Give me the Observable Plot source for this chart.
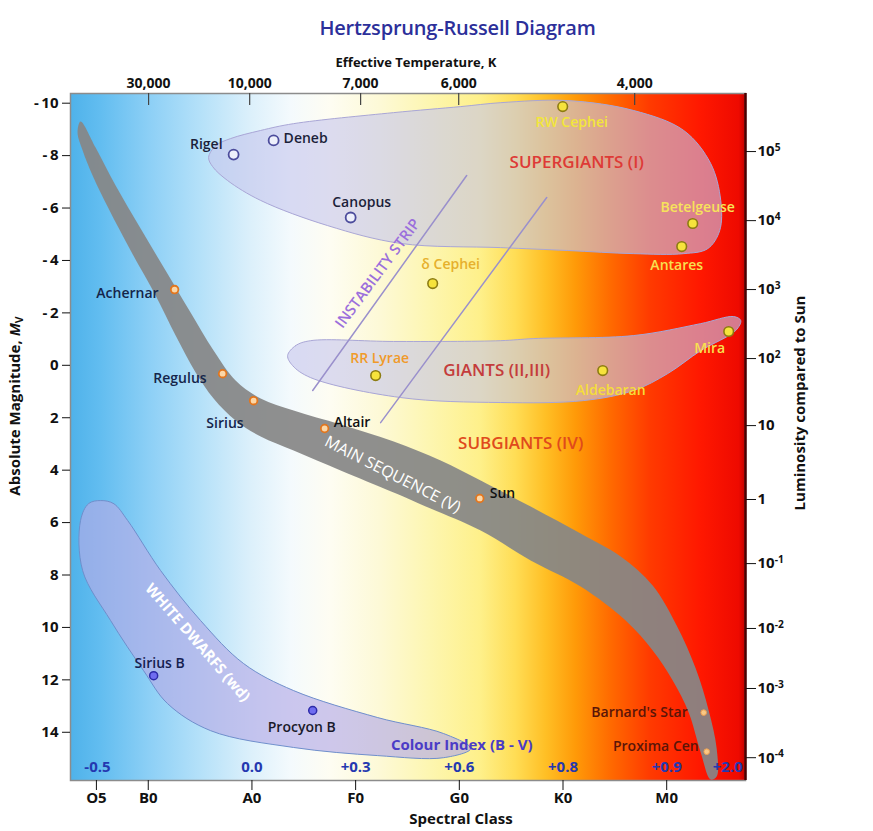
<!DOCTYPE html>
<html>
<head>
<meta charset="utf-8">
<script src="https://cdn.jsdelivr.net/npm/d3@7"></script>
<script src="https://cdn.jsdelivr.net/npm/@observablehq/plot@0.6"></script>
<style>
  body { margin: 0; background: #ffffff; font-family: "Open Sans", sans-serif; }
  #title { height: 44px; line-height: 56px; text-align: center; font-size: 20px; font-weight: 600;
           color: #2c2f9a; letter-spacing: -0.2px; white-space: nowrap; padding-left: 42px; box-sizing: border-box; width: 873px; }
  #chart { width: 873px; }
</style>
</head>
<body>
<div id="title">Hertzsprung-Russell Diagram</div>
<div id="chart"></div>
<script>
// ---------------- DATA ----------------
// x = spectral class index (O=0, B=1, A=2, F=3, G=4, K=5, M=6), y = absolute magnitude M_V
const spectralTicks  = [0.5, 1, 2, 3, 4, 5, 6];
const spectralLabels = ["O5", "B0", "A0", "F0", "G0", "K0", "M0"];

const tempTicks  = [1.003, 1.978, 3.048, 3.994, 5.691];
const tempLabels = ["30,000", "10,000", "7,000", "6,000", "4,000"];

const magTicks = [-10, -8, -6, -4, -2, 0, 2, 4, 6, 8, 10, 12, 14];

const lumTicks  = [-8.155, -5.52, -2.89, -0.257, 2.30, 5.12, 7.565, 10.04, 12.33, 14.97];
const lumLabels = ["10^5", "10^4", "10^3", "10^2", "10", "1", "10^-1", "10^-2", "10^-3", "10^-4"];

const colourIndexX      = [0.51, 2, 3, 4, 5, 6, 6.589];
const colourIndexLabels = ["-0.5", "0.0", "+0.3", "+0.6", "+0.8", "+0.9", "+2.0"];

const starNames = ["Rigel", "Deneb", "Canopus", "RW Cephei", "Betelgeuse", "Antares", "δ Cephei",
  "RR Lyrae", "Aldebaran", "Mira", "Achernar", "Regulus", "Sirius", "Altair", "Sun",
  "Barnard's Star", "Proxima Cen", "Sirius B", "Procyon B"];
const starClass = [1.823, 2.209, 2.952, 4.997, 6.251, 6.145, 3.743,
  3.193, 5.383, 6.598, 1.254, 1.717, 2.016, 2.701, 4.197,
  6.357, 6.386, 1.052, 2.586];
const starMag = [-8.04, -8.58, -5.64, -9.87, -5.41, -4.53, -3.12,
  0.39, 0.20, -1.29, -2.89, 0.32, 1.35, 2.41, 5.08,
  13.25, 14.74, 11.84, 13.17];

const supergiantStars = ["Rigel", "Deneb", "Canopus"];
const giantStars      = ["RW Cephei", "Betelgeuse", "Antares", "δ Cephei", "RR Lyrae", "Aldebaran", "Mira"];
const mainSeqStars    = ["Achernar", "Regulus", "Sirius", "Altair", "Sun"];
const redDwarfStars   = ["Barnard's Star", "Proxima Cen"];
const whiteDwarfStars = ["Sirius B", "Procyon B"];

// region outlines
const mainSeqX = [0.347, 0.492, 0.685, 0.926, 1.167, 1.408, 1.630, 1.842, 2.084, 2.402, 2.855, 3.367, 3.820, 4.206, 4.688, 5.170,
  5.556, 5.865, 6.096, 6.280, 6.405, 6.482, 6.482,
  6.424, 6.328, 6.212, 6.058, 5.865, 5.604, 5.170, 4.688, 4.206, 3.723, 3.367, 2.855, 2.402, 2.084, 1.842, 1.630,
  1.457, 1.264, 1.071, 0.830, 0.617, 0.463, 0.367, 0.318];
const mainSeqMag = [-9.300, -8.308, -6.858, -5.217, -3.615, -2.012, -0.562, 0.582, 1.269, 1.727, 2.261, 2.909, 3.634, 4.397, 5.389, 6.420,
  7.297, 8.404, 9.930, 11.570, 13.173, 14.622, 15.691,
  15.805, 14.775, 13.249, 12.028, 10.883, 9.739, 8.442, 7.450, 6.305, 5.466, 4.855, 4.016, 3.253, 2.719, 2.108, 1.269,
  0.277, -1.135, -2.661, -4.378, -5.980, -7.239, -8.193, -8.880];

const supergiantX = [1.582, 1.650, 1.794, 2.084, 2.402, 3.366, 4.013, 4.399, 5.045, 5.682, 6.164, 6.424, 6.521, 6.511, 6.395,
  6.164, 5.682, 5.045, 4.399, 3.434, 2.730, 2.084, 1.765, 1.621];
const supergiantMag = [-7.93, -8.38, -8.65, -8.96, -9.22, -9.64, -9.87, -10.02, -10.10, -9.72, -8.96, -7.70, -6.29, -5.14, -4.45,
  -4.26, -4.26, -4.38, -4.49, -4.65, -5.33, -6.29, -7.05, -7.58];

const giantX = [2.344, 2.421, 2.566, 3.366, 4.399, 4.717, 5.682, 6.328, 6.646, 6.714, 6.666, 6.328, 6.010, 5.682, 5.199, 4.399, 3.434, 2.566, 2.392];
const giantMag = [-0.37, -0.75, -0.94, -0.91, -0.94, -1.02, -1.135, -1.59, -1.86, -1.71, -1.33, -0.56, 0.315, 0.96, 1.345, 1.42, 1.23, 0.47, 0.01];

const whiteDwarfX = [0.540, 0.666, 0.801, 1.119, 1.505, 1.920, 2.402, 3.213, 3.849, 4.110, 3.849, 3.213, 2.402, 1.602, 1.187, 0.955, 0.637, 0.367, 0.347, 0.425];
const whiteDwarfMag = [5.16, 5.275, 5.92, 7.83, 9.74, 11.38, 12.41, 13.44, 14.05, 14.62, 14.97, 14.89, 14.58, 13.94, 12.91, 11.65, 9.74, 7.83, 5.92, 5.275];

const stripAX = [2.586, 4.071], stripAMag = [0.96, -7.24];
const stripBX = [3.241, 4.843], stripBMag = [2.185, -6.40];

const regionNames = ["SUPERGIANTS (I)", "GIANTS (II,III)", "SUBGIANTS (IV)", "MAIN SEQUENCE (V)",
  "WHITE DWARFS (wd)", "INSTABILITY STRIP", "Colour Index (B - V)"];
const regionX   = [5.132, 4.360, 4.592, 3.357, 1.476, 3.213, 4.023];
const regionMag = [-7.735, 0.20, 2.99, 4.169, 10.58, -3.50, 14.51];

// ---------------- RENDER ----------------
const pts = (xs, ms) => xs.map((x, i) => ({x, m: ms[i]}));
const stars = starNames.map((name, i) => ({name, x: starClass[i], m: starMag[i]}));
const pick = (names) => stars.filter(s => names.includes(s.name));
const specMap = new Map(spectralTicks.map((d, i) => [d, spectralLabels[i]]));
const tempMap = new Map(tempTicks.map((d, i) => [d, tempLabels[i]]));
const lumMap  = new Map(lumTicks.map((d, i) => [d, lumLabels[i]]));

const xDomain = [0.25, 6.76];
const yDomain = [-10.37, 15.84];

const bgStops = [
  [0, "#4fb2ea"], [0.044, "#62bdf0"], [0.119, "#8ed0f6"], [0.193, "#b5e1f9"], [0.267, "#dcf0fb"],
  [0.326, "#f4fafd"], [0.385, "#fefdf2"], [0.459, "#fdf9d6"], [0.533, "#fdf6b0"], [0.607, "#fef08a"],
  [0.659, "#ffdd55"], [0.704, "#ffbf25"], [0.748, "#ff9a08"], [0.80, "#ff6a00"], [0.859, "#ff3a00"],
  [0.933, "#ff1800"], [0.99, "#ee0a00"], [1, "#c00000"]
];
function bgDefs() {
  const defs = d3.create("svg:defs");
  const g = defs.append("linearGradient").attr("id", "hrBg")
    .attr("x1", "0").attr("x2", "1").attr("y1", "0").attr("y2", "0");
  bgStops.forEach(([o, c]) => g.append("stop").attr("offset", o).attr("stop-color", c));
  return defs.node();
}

const labelStyle = {
  "Rigel":          {dx: -11, dy: -10, a: "end",    c: "#1c1f3a"},
  "Deneb":          {dx: 10,  dy: -2,  a: "start",  c: "#1c1f3a"},
  "Canopus":        {dx: 11,  dy: -15, a: "middle", c: "#1c1f3a"},
  "RW Cephei":      {dx: 9,   dy: 16,  a: "middle", c: "#f2e63a"},
  "Betelgeuse":     {dx: 5,   dy: -16, a: "middle", c: "#f7e35a"},
  "Antares":        {dx: -5,  dy: 19,  a: "middle", c: "#f8e050"},
  "δ Cephei":       {dx: 18,  dy: -19, a: "middle", c: "#e6b02c"},
  "RR Lyrae":       {dx: 4,   dy: -17, a: "middle", c: "#f09a2a"},
  "Aldebaran":      {dx: 8,   dy: 20,  a: "middle", c: "#f5de3a"},
  "Mira":           {dx: -19, dy: 17,  a: "middle", c: "#f8e050"},
  "Achernar":       {dx: -16, dy: 4,   a: "end",    c: "#15254a"},
  "Regulus":        {dx: -16, dy: 5,   a: "end",    c: "#15254a"},
  "Sirius":         {dx: -10, dy: 23,  a: "end",    c: "#15254a"},
  "Altair":         {dx: 9,   dy: -6,  a: "start",  c: "#111111"},
  "Sun":            {dx: 10,  dy: -5,  a: "start",  c: "#111111"},
  "Barnard's Star": {dx: -16, dy: 0,   a: "end",    c: "#5a1508"},
  "Proxima Cen":    {dx: -8,  dy: -5,  a: "end",    c: "#5a1508"},
  "Sirius B":       {dx: 6,   dy: -12, a: "middle", c: "#152050"},
  "Procyon B":      {dx: -11, dy: 17,  a: "middle", c: "#1a1a2a"}
};

const regionStyle = [
  {fill: "#de3a36", fontSize: 17, fontWeight: 600},
  {fill: "#c43c3c", fontSize: 17, fontWeight: 600},
  {fill: "#e04a1c", fontSize: 17, fontWeight: 600},
  {fill: "#ffffff", fontSize: 16, fontWeight: 400, rotate: 27},
  {fill: "#ffffff", fontSize: 15, fontWeight: 700, rotate: 49},
  {fill: "#9b6fdc", fontSize: 15, fontWeight: 600, rotate: -53.5},
  {fill: "#4b3cc6", fontSize: 15, fontWeight: 700}
];
const regionText = regionNames.map((name, i) => Plot.text([i], {
  x: j => regionX[j], y: j => regionMag[j], text: j => regionNames[j],
  textAnchor: "middle", ...regionStyle[i]
}));

const starLabels = stars.map(s => {
  const st = labelStyle[s.name];
  return Plot.text([s], {x: "x", y: "m", text: "name", dx: st.dx, dy: st.dy, textAnchor: st.a,
    fill: st.c, fontSize: 14, fontWeight: 600});
});

const region = (xs, ms, opts) => Plot.line(pts(xs, ms), {x: "x", y: "m", curve: "catmull-rom-closed", ...opts});

const chart = Plot.plot({
  width: 873,
  height: 787,
  marginTop: 49,
  marginBottom: 51,
  marginLeft: 70,
  marginRight: 128,
  style: {fontFamily: "'Open Sans', sans-serif", background: "#ffffff", color: "#111"},
  x: {domain: xDomain, label: null},
  y: {domain: yDomain, reverse: true, label: null},
  marks: [
    bgDefs,
    Plot.frame({fill: "url(#hrBg)", stroke: null}),
    region(supergiantX, supergiantMag, {fill: "#c4c4ec", fillOpacity: 0.6, stroke: "#a9a6d6", strokeWidth: 1}),
    region(giantX, giantMag, {fill: "#c4c4ec", fillOpacity: 0.6, stroke: "#a9a6d6", strokeWidth: 1}),
    region(whiteDwarfX, whiteDwarfMag, {fill: "#b4ace6", fillOpacity: 0.66, stroke: "#6f8fcc", strokeWidth: 1}),
    region(mainSeqX, mainSeqMag, {fill: "#868686", fillOpacity: 0.93, stroke: "none"}),
    Plot.line(pts(stripAX, stripAMag), {x: "x", y: "m", stroke: "#9a90cc", strokeWidth: 1.5}),
    Plot.line(pts(stripBX, stripBMag), {x: "x", y: "m", stroke: "#9a90cc", strokeWidth: 1.5}),
    ...regionText,
    Plot.text(colourIndexX, {x: d => d, text: (d, i) => colourIndexLabels[i], frameAnchor: "bottom", lineAnchor: "middle", dy: -13,
      fill: "#2438b0", fontSize: 15, fontWeight: 700}),
    Plot.dot(pick(supergiantStars), {x: "x", y: "m", r: 5, fill: "#eef0fb", stroke: "#4c4c9c", strokeWidth: 1.8}),
    Plot.dot(pick(giantStars), {x: "x", y: "m", r: 4.8, fill: "#f6e33c", stroke: "#8c7c12", strokeWidth: 1.6}),
    Plot.dot(pick(mainSeqStars), {x: "x", y: "m", r: 3.8, fill: "#fbd7a8", stroke: "#e2761e", strokeWidth: 1.8}),
    Plot.dot(pick(redDwarfStars), {x: "x", y: "m", r: 2.8, fill: "#f9c886", stroke: "#eea050", strokeWidth: 1}),
    Plot.dot(pick(whiteDwarfStars), {x: "x", y: "m", r: 4, fill: "#6f6cf0", stroke: "#2c2aa8", strokeWidth: 1.5}),
    ...starLabels,
    Plot.frame({stroke: "#8c8c8c", strokeWidth: 1.5}),
    Plot.ruleX([xDomain[1]], {stroke: "#4a0000", strokeWidth: 2.5}),
    Plot.tickX(tempTicks, {x: d => d, insetBottom: 675, stroke: "#444", strokeWidth: 1.2}),
    Plot.axisX({anchor: "top", ticks: tempTicks, tickFormat: d => tempMap.get(d), tickSize: 0, tickPadding: 6,
      label: null, fontSize: 14, fontWeight: "bold"}),
    Plot.axisX({anchor: "bottom", ticks: spectralTicks, tickFormat: d => specMap.get(d), tickSize: 10, tickPadding: 2,
      label: null, fontSize: 15, fontWeight: "bold"}),
    Plot.axisY({anchor: "left", ticks: magTicks, tickFormat: d => d < 0 ? "-\u2009" + (-d) : String(d), tickSize: 8,
      tickPadding: 4, label: null, fontSize: 15, fontWeight: "bold"}),
    Plot.axisY({anchor: "right", ticks: lumTicks, tickFormat: d => lumMap.get(d), tickSize: 10, tickPadding: 2,
      label: null, fontSize: 15, fontWeight: "bold"}),
    Plot.text(["Effective Temperature, K"], {frameAnchor: "top", lineAnchor: "middle", textAnchor: "middle", dx: 8, dy: -31,
      fontSize: 13, fontWeight: "bold", letterSpacing: -0.3}),
    Plot.text(["Spectral Class"], {frameAnchor: "bottom", lineAnchor: "middle", textAnchor: "middle", dx: 53, dy: 39,
      fontSize: 15, fontWeight: "bold"}),
    Plot.text(["Absolute Magnitude, M_V"], {frameAnchor: "left", lineAnchor: "middle", textAnchor: "middle", dx: -55, dy: -31,
      rotate: -90, fontSize: 15, fontWeight: "bold"}),
    Plot.text(["Luminosity compared to Sun"], {frameAnchor: "right", lineAnchor: "middle", textAnchor: "middle", dx: 55, dy: -34,
      rotate: -90, fontSize: 15, fontWeight: "bold"})
  ]
});

document.getElementById("chart").appendChild(chart);

// typographic touches: superscript exponents and the M_V subscript
d3.select(chart).selectAll("text").each(function () {
  const t = this.textContent;
  const m = t.match(/^10\^(.+)$/);
  if (m) {
    const s = d3.select(this);
    s.text("10");
    s.append("tspan").attr("dy", "-0.5em").attr("font-size", "0.68em").text(m[1]);
  } else if (t === "Absolute Magnitude, M_V") {
    const s = d3.select(this);
    s.text("Absolute Magnitude, ");
    s.append("tspan").attr("font-style", "italic").text("M");
    s.append("tspan").attr("dy", "0.3em").attr("font-size", "0.7em").text("V");
  }
});
</script>
</body>
</html>
